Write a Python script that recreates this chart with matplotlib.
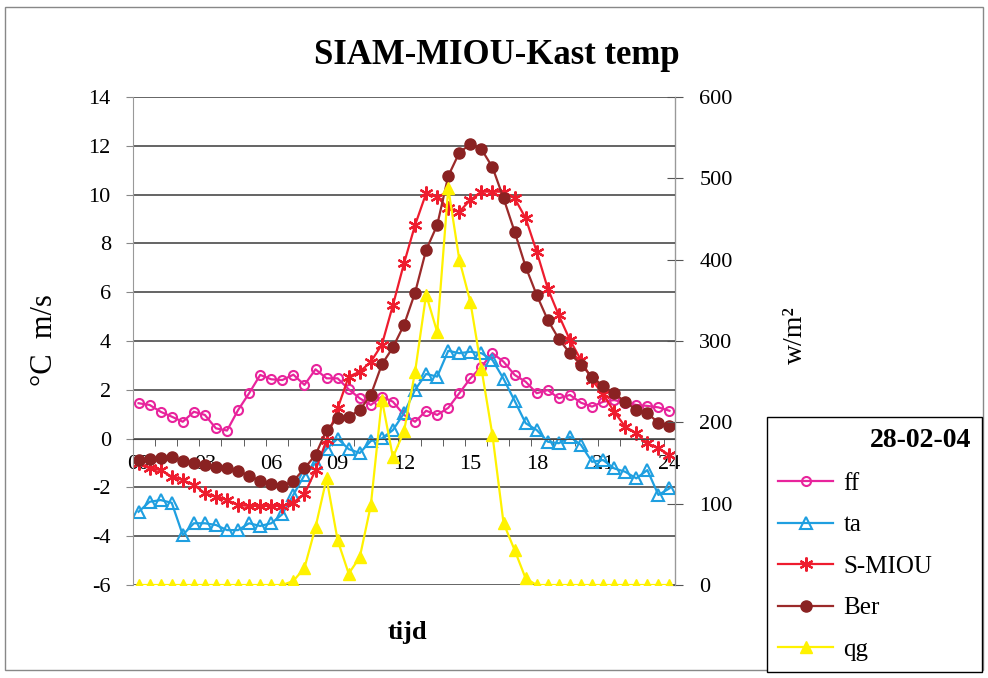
import numpy as np
import matplotlib
matplotlib.use("Agg")
import matplotlib.pyplot as plt
from matplotlib.patches import Rectangle

plt.rcParams['font.family'] = ['Liberation Serif', 'DejaVu Serif']
plt.rcParams['axes.unicode_minus'] = False

# half-hourly readings, 00:00 .. 24:00
tick_labels = ['00', '03', '06', '09', '12', '15', '18', '21', '24']

ff = [1.45, 1.38, 1.10, 0.90, 0.69, 1.10, 0.97, 0.42, 0.33, 1.17,
      1.86, 2.61, 2.43, 2.40, 2.62, 2.20, 2.84, 2.47, 2.47, 2.02,
      1.65, 1.38, 1.72, 1.51, 0.97, 0.69, 1.14, 0.97, 1.26, 1.86,
      2.47, 2.95, 3.50, 3.15, 2.61, 2.33, 1.86, 1.99, 1.65, 1.79,
      1.47, 1.31, 1.51, 1.58, 1.47, 1.38, 1.34, 1.28, 1.14]

ta = [-3.00, -2.59, -2.52, -2.63, -3.95, -3.47, -3.47, -3.54, -3.75, -3.75,
      -3.47, -3.58, -3.47, -3.10, -2.30, -1.50, -1.00, -0.42, 0.00, -0.43,
      -0.59, -0.10, 0.01, 0.35, 1.04, 2.00, 2.65, 2.54, 3.60, 3.50,
      3.56, 3.50, 3.22, 2.45, 1.55, 0.63, 0.35, -0.13, -0.19, 0.08,
      -0.26, -0.95, -0.88, -1.22, -1.36, -1.63, -1.29, -2.31, -2.04]

s_miou = [-1.00, -1.22, -1.29, -1.56, -1.70, -1.90, -2.24, -2.38, -2.52, -2.72,
          -2.76, -2.76, -2.76, -2.76, -2.62, -2.28, -1.29, -0.06, 1.24, 2.54,
          2.74, 3.15, 3.85, 5.47, 7.18, 8.75, 10.05, 9.91, 9.44, 9.30,
          9.78, 10.12, 10.12, 10.12, 9.85, 9.03, 7.66, 6.15, 5.05, 4.04,
          3.22, 2.40, 1.82, 1.10, 0.49, 0.22, -0.19, -0.40, -0.67]

ber = [-0.87, -0.85, -0.80, -0.75, -0.90, -1.00, -1.10, -1.17, -1.20, -1.32,
       -1.52, -1.73, -1.86, -1.93, -1.74, -1.22, -0.67, 0.35, 0.83, 0.90,
       1.17, 1.79, 3.04, 3.74, 4.66, 5.98, 7.73, 8.75, 10.76, 11.72,
       12.07, 11.86, 11.12, 9.85, 8.48, 7.04, 5.88, 4.86, 4.08, 3.50,
       3.02, 2.54, 2.15, 1.85, 1.51, 1.17, 1.04, 0.65, 0.52]

qg = [0, 0, 0, 0, 0, 0, 0, 0, 0, 0,
      0, 0, 0, 0, 5, 21, 71, 131, 55, 14,
      34, 98, 228, 157, 189, 262, 357, 311, 488, 400,
      348, 266, 184, 76, 43, 8, 0, 0, 0, 0,
      0, 0, 0, 0, 0, 0, 0, 0, 0]

x = np.arange(len(ff))

fig = plt.figure(figsize=(9.88, 6.78), dpi=100)
ax = fig.add_axes([133/988, 1-585/678, (675-133)/988, (585-97)/678])
ax2 = ax.twinx()

ax.plot(x, ff, color='#e8249c', lw=1.6, marker='o', ms=6.5, mfc='none',
        mew=1.5, label='ff')
ax.plot(x, ta, color='#1f9fe0', lw=1.6, marker='^', ms=8, mfc='none',
        mew=1.5, label='ta')
ax.plot(x, s_miou, color='#ee1c2e', lw=1.6, marker=(6, 2, 0), ms=10,
        mew=1.6, label='S-MIOU')
ax.plot(x, ber, color='#9b2a2a', lw=1.6, marker='o', ms=8, mfc='#8a2222',
        mec='#8a2222', label='Ber')
ax2.plot(x, qg, color='#fff200', lw=1.6, marker='^', ms=8, mfc='#fff200',
         mec='#fff200', label='qg')

ax.set_xlim(-0.5, 48.5)
ax.set_ylim(-6, 14)
ax2.set_ylim(0, 600)

ax.set_yticks(np.arange(-6, 15, 2))
ax.yaxis.grid(True, color='#3a3a3a', lw=1.1)
ax.set_axisbelow(True)
ax.tick_params(axis='y', direction='out', length=5, color='#888888',
               labelsize=16, pad=11)

ax.spines['bottom'].set_position(('data', 0))
ax.spines['bottom'].set_color('#444444')
ax.spines['top'].set_visible(False)
ax.spines['left'].set_color('#999999')
ax.set_xticks(np.arange(0, 49, 6))
ax.set_xticklabels(tick_labels)
ax.set_xticks(np.arange(1.5, 48, 2), minor=True)
ax.tick_params(axis='x', which='major', length=0, labelsize=16, pad=12)
ax.tick_params(axis='x', which='minor', direction='out', length=5,
               color='#444444')

ax2.set_yticks(np.arange(0, 601, 100))
ax2.tick_params(axis='y', direction='inout', length=11, color='#555555',
                labelsize=16, pad=12)
for sp in ax2.spines.values():
    sp.set_visible(False)
ax2.spines['right'].set_visible(True)
ax2.spines['right'].set_color('#999999')

fig.text(497/988, 1-55/678, 'SIAM-MIOU-Kast temp', ha='center',
         va='center', fontsize=25, fontweight='bold')
fig.text(45/988, 1-340/678, '°C  m/s', ha='center', va='center',
         rotation=90, fontsize=22)
fig.text(795/988, 1-335/678, 'w/m²', ha='center', va='center',
         rotation=90, fontsize=20)
fig.text(407/988, 1-633/678, 'tijd', ha='center', va='center',
         fontsize=19, fontweight='bold')

h1, l1 = ax.get_legend_handles_labels()
h2, l2 = ax2.get_legend_handles_labels()
leg = fig.legend(h1 + h2, l1 + l2, loc='upper left',
                 bbox_to_anchor=(767/988, 8/678, 215/988, (670-417)/678),
                 mode='expand', borderaxespad=0, title='28-02-04',
                 title_fontproperties={'weight': 'bold', 'size': 20},
                 alignment='right', fontsize=18, labelspacing=0.76,
                 handlelength=2.2, handletextpad=0.4, borderpad=0.45,
                 fancybox=False, edgecolor='black', framealpha=1)
leg.get_frame().set_linewidth(1.0)

fig.patches.append(Rectangle((5/988, 1-670/678), 978/988, 663/678,
                             transform=fig.transFigure, fill=False,
                             edgecolor='#888888', lw=1))

fig.savefig('out.png', dpi=100)
